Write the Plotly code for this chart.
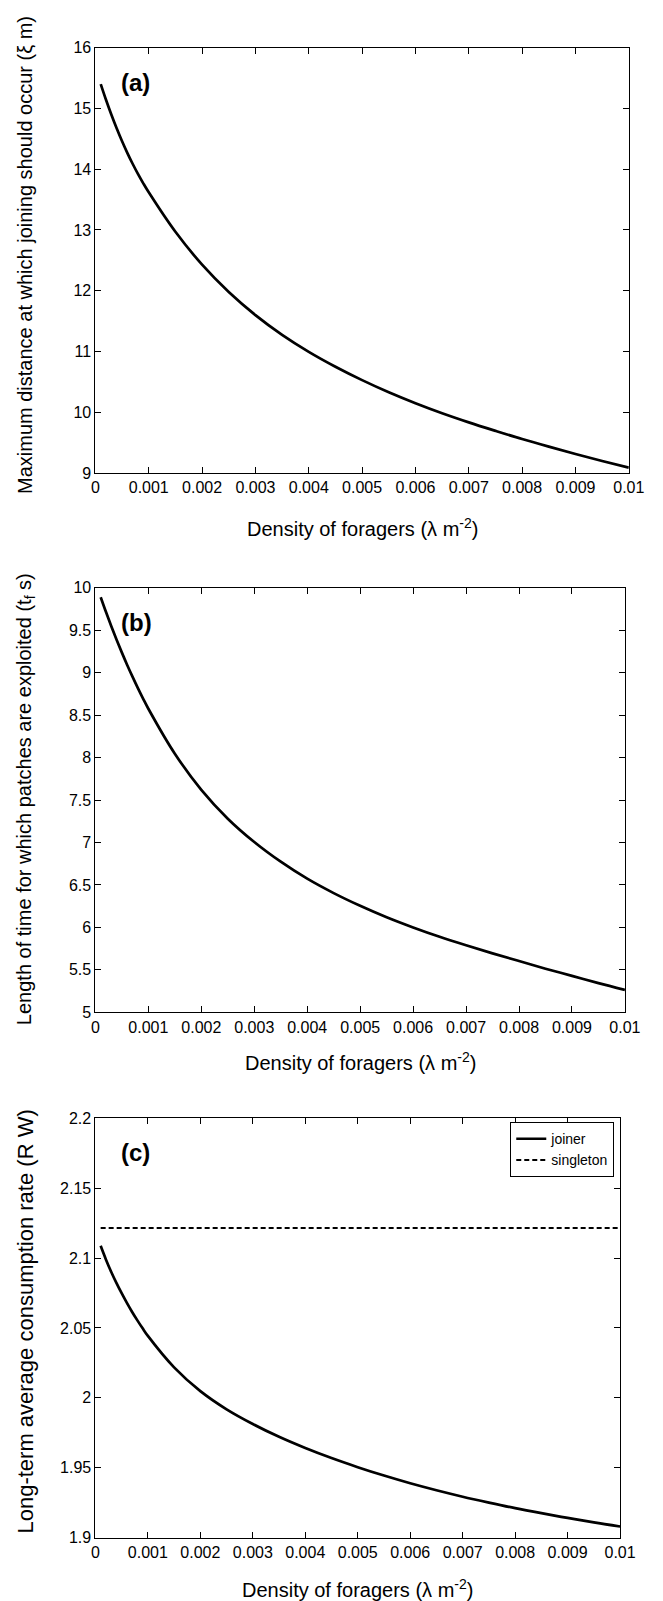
import plotly.graph_objects as go

W, H = 663, 1601

# ---------------- data ----------------
density = [0.0001, 0.0002, 0.0003, 0.0004, 0.0005, 0.0006, 0.0007, 0.0008, 0.0009, 0.0010,
           0.0015, 0.0020, 0.0025, 0.0030, 0.0035, 0.0040, 0.0045, 0.0050, 0.0055,
           0.0060, 0.0065, 0.0070, 0.0075, 0.0080, 0.0085, 0.0090, 0.0095, 0.0100]

max_distance = [15.400, 15.138, 14.895, 14.669, 14.460, 14.266, 14.086, 13.919, 13.764, 13.620,
                12.970, 12.430, 11.980, 11.600, 11.275, 10.995, 10.750, 10.530, 10.330,
                10.150, 9.985, 9.835, 9.695, 9.560, 9.435, 9.315, 9.200, 9.090]

patch_time = [9.890, 9.715, 9.548, 9.389, 9.237, 9.092, 8.954, 8.822, 8.696, 8.576,
              8.046, 7.621, 7.281, 7.006, 6.774, 6.574, 6.404, 6.254, 6.119,
              5.999, 5.889, 5.789, 5.694, 5.604, 5.514, 5.429, 5.344, 5.264]

joiner_rate = [2.1087, 2.0990, 2.0902, 2.0822, 2.0748, 2.0679, 2.0614, 2.0554, 2.0497, 2.0443,
               2.0218, 2.0048, 1.9918, 1.9813, 1.9721, 1.9641, 1.9569, 1.9504, 1.9444,
               1.9389, 1.9339, 1.9293, 1.9251, 1.9211, 1.9175, 1.9141, 1.9109, 1.9080]

singleton_x = [0.0001, 0.01]
singleton_rate = [2.1215, 2.1215]

x_ticks = [0, 0.001, 0.002, 0.003, 0.004, 0.005, 0.006, 0.007, 0.008, 0.009, 0.01]
x_ticktext = ["0", "0.001", "0.002", "0.003", "0.004", "0.005", "0.006", "0.007", "0.008", "0.009", "0.01"]
ya_ticks = [9, 10, 11, 12, 13, 14, 15, 16]
ya_text = ["9", "10", "11", "12", "13", "14", "15", "16"]
yb_ticks = [5, 5.5, 6, 6.5, 7, 7.5, 8, 8.5, 9, 9.5, 10]
yb_text = ["5", "5.5", "6", "6.5", "7", "7.5", "8", "8.5", "9", "9.5", "10"]
yc_ticks = [1.9, 1.95, 2.0, 2.05, 2.1, 2.15, 2.2]
yc_text = ["1.9", "1.95", "2", "2.05", "2.1", "2.15", "2.2"]

x_title = "Density of foragers (λ m<sup>-2</sup>)"
ya_title = "Maximum distance at which joining should occur (ξ m)"
yb_title = "Length of time for which patches are exploited (t<sub>f</sub> s)"
yc_title = "Long-term average consumption rate (R W)"

FONT = "Liberation Sans, Arial, Helvetica, sans-serif"

def px(x):
    return x / W

def py(y):
    return 1 - y / H

fig = go.Figure()

line = dict(color="black", width=2.7, shape="spline", smoothing=1)
fig.add_trace(go.Scatter(x=density, y=max_distance, mode="lines", line=line,
                         xaxis="x", yaxis="y", showlegend=False))
fig.add_trace(go.Scatter(x=density, y=patch_time, mode="lines", line=line,
                         xaxis="x2", yaxis="y2", showlegend=False))
fig.add_trace(go.Scatter(x=density, y=joiner_rate, mode="lines", name="joiner",
                         line=line, xaxis="x3", yaxis="y3"))
fig.add_trace(go.Scatter(x=singleton_x, y=singleton_rate, mode="lines", name="singleton",
                         line=dict(color="black", width=2, dash="5px,3px"), xaxis="x3", yaxis="y3"))

common_axis = dict(showline=True, mirror="ticks", linecolor="black", linewidth=1,
                   ticks="inside", ticklen=6, tickcolor="black", tickwidth=1,
                   showgrid=False, zeroline=False,
                   tickfont=dict(family=FONT, size=16, color="black"))

panels = [
    ("", [86, 636], [32, 462], [9, 16], ya_ticks, ya_text),
    ("2", [86, 632], [578, 1007], [5, 10], yb_ticks, yb_text),
    ("3", [86, 627], [1114, 1538], [1.9, 2.2], yc_ticks, yc_text),
]
for suf, (x0, x1), (y0, y1), yr, yt, ytt in panels:
    fig.layout["xaxis" + suf] = dict(common_axis, domain=[px(x0), px(x1)], range=[0, 0.01],
                                     tickvals=x_ticks, ticktext=x_ticktext,
                                     anchor="y" + suf)
    fig.layout["yaxis" + suf] = dict(common_axis, domain=[py(y1), py(y0)], range=yr,
                                     tickvals=yt, ticktext=ytt, anchor="x" + suf)

annotations = []
# (panel label, y title, x extent, y extent, x-title y, y-title centre, y-title size)
titles = [("(a)", ya_title, [86, 636], [32, 462], 517, 242, 20),
          ("(b)", yb_title, [86, 632], [578, 1007], 1057, 792, 20),
          ("(c)", yc_title, [86, 627], [1114, 1538], 1589, 1320, 22)]
for lab, yt, (x0, x1), (y0, y1), xt_y, yt_c, yt_s in titles:
    annotations.append(dict(text=x_title, x=px((x0 + x1) / 2), y=py(xt_y), xref="paper", yref="paper",
                            showarrow=False, xanchor="center", yanchor="middle",
                            font=dict(family=FONT, size=20, color="black")))
    annotations.append(dict(text=yt, x=px(14), y=py(yt_c), xref="paper", yref="paper",
                            showarrow=False, textangle=-90, xanchor="center", yanchor="middle",
                            font=dict(family=FONT, size=yt_s, color="black")))
    annotations.append(dict(text="<b>" + lab + "</b>", x=px(110), y=py(y0 + 35), xref="paper", yref="paper",
                            showarrow=False, xanchor="left", yanchor="middle",
                            font=dict(family=FONT, size=24, color="black")))

fig.update_layout(
    width=W, height=H,
    margin=dict(l=0, r=0, t=0, b=0),
    paper_bgcolor="white", plot_bgcolor="white",
    font=dict(family=FONT, color="black"),
    annotations=annotations,
    showlegend=True,
    legend=dict(x=px(621), y=py(1118), xanchor="right", yanchor="top",
                bordercolor="black", borderwidth=1, bgcolor="white",
                font=dict(family=FONT, size=14, color="black"),
                itemwidth=30, tracegroupgap=0),
)

fig.write_html("out.html")
